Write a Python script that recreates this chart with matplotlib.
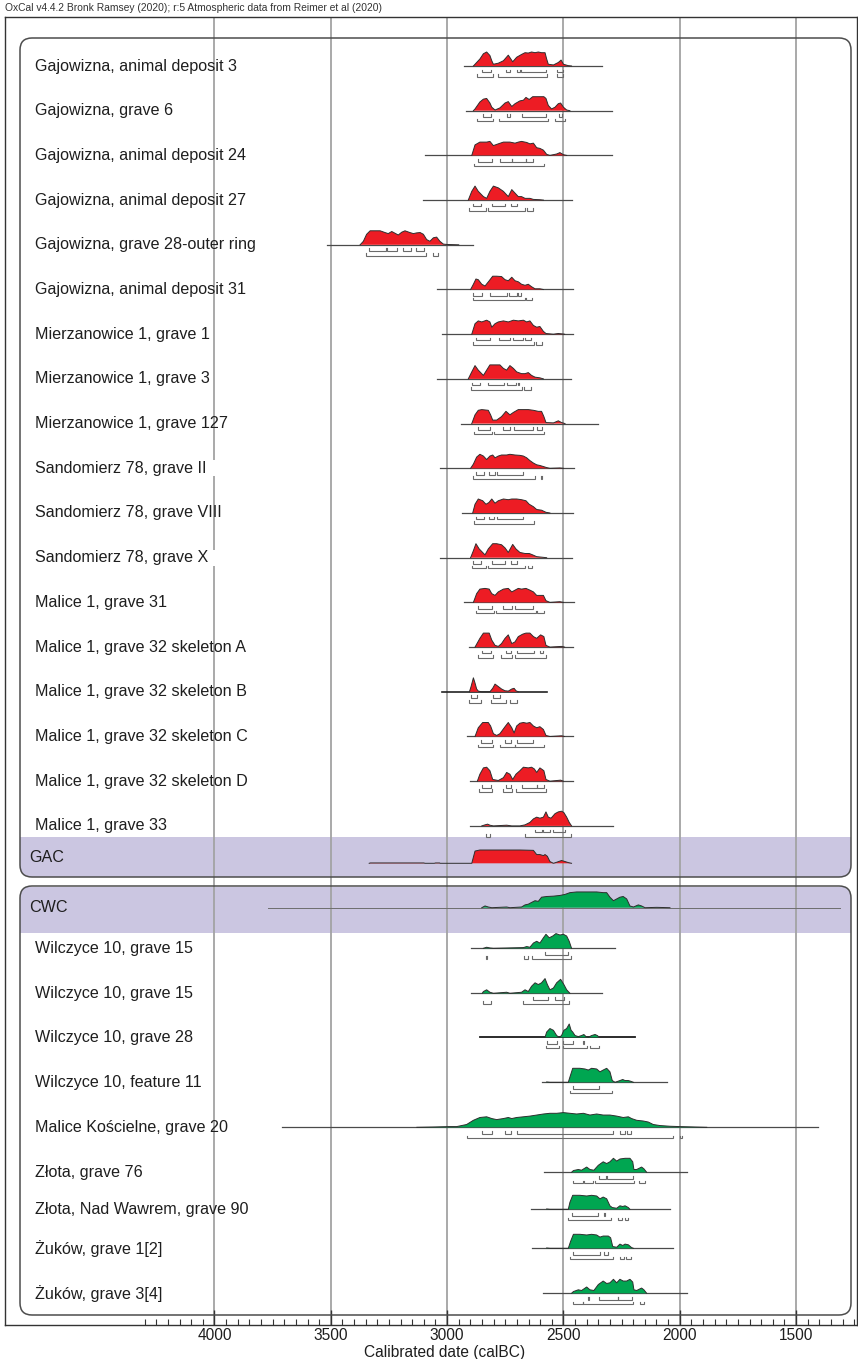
import matplotlib
matplotlib.use("Agg")
import matplotlib.pyplot as plt
from matplotlib.patches import FancyBboxPatch, Rectangle
from matplotlib.ticker import FixedLocator

plt.rcParams['font.family'] = ['Liberation Sans', 'DejaVu Sans']

# ---------------------------------------------------------------- data
HEADER = "OxCal v4.4.2 Bronk Ramsey (2020); r:5 Atmospheric data from Reimer et al (2020)"
X_LABEL = "Calibrated date (calBC)"
MAJOR_TICKS = [4000, 3500, 3000, 2500, 2000, 1500]

GAC_LABELS = [
    "Gajowizna, animal deposit 3",
    "Gajowizna, grave 6",
    "Gajowizna, animal deposit 24",
    "Gajowizna, animal deposit 27",
    "Gajowizna, grave 28-outer ring",
    "Gajowizna, animal deposit 31",
    "Mierzanowice 1, grave 1",
    "Mierzanowice 1, grave 3",
    "Mierzanowice 1, grave 127",
    "Sandomierz 78, grave II",
    "Sandomierz 78, grave VIII",
    "Sandomierz 78, grave X",
    "Malice 1, grave 31",
    "Malice 1, grave 32 skeleton A",
    "Malice 1, grave 32 skeleton B",
    "Malice 1, grave 32 skeleton C",
    "Malice 1, grave 32 skeleton D",
    "Malice 1, grave 33",
]

# full plotted extent of each likelihood (calBC)
GAC_SPANS = [
    (2927, 2333), (2919, 2293), (3095, 2293), (3104, 2465), (3516, 2889),
    (3043, 2457), (3022, 2457), (3043, 2468), (2940, 2353), (3030, 2455),
    (2937, 2457), (3030, 2465), (2927, 2453), (2904, 2457), (3022, 2569),
    (2913, 2457), (2902, 2457), (2902, 2285),
]

# probability density (relative units) at calendar years
GAC_DENSITY = [
    [(2887, 0), (2880, 5), (2859, 20), (2844, 35), (2830, 40), (2816, 30), (2808, 15), (2801, 5),
     (2780, 8), (2758, 15), (2737, 31), (2718, 12), (2701, 25), (2680, 33), (2665, 38), (2651, 37),
     (2637, 40), (2622, 38), (2608, 40), (2594, 38), (2579, 38), (2572, 20), (2565, 5), (2543, 3),
     (2522, 10), (2510, 17), (2500, 5), (2479, 1), (2465, 0)],
    [(2887, 0), (2880, 5), (2859, 25), (2844, 33), (2830, 35), (2816, 22), (2808, 10), (2794, 2),
     (2773, 8), (2751, 22), (2737, 26), (2722, 12), (2708, 20), (2687, 28), (2672, 30), (2661, 38),
     (2647, 32), (2632, 40), (2615, 40), (2601, 40), (2584, 40), (2575, 35), (2565, 15), (2551, 5),
     (2536, 10), (2522, 20), (2512, 22), (2500, 10), (2486, 2), (2472, 0)],
    [(2894, 0), (2880, 30), (2859, 38), (2830, 38), (2816, 40), (2801, 28), (2780, 33), (2758, 38),
     (2730, 38), (2708, 35), (2694, 38), (2680, 40), (2658, 37), (2644, 33), (2629, 35), (2615, 22),
     (2601, 20), (2586, 15), (2572, 3), (2558, 0), (2529, 4), (2515, 8), (2500, 2), (2486, 0)],
    [(2909, 0), (2894, 25), (2880, 40), (2866, 25), (2844, 10), (2830, 5), (2816, 25), (2801, 40),
     (2780, 35), (2758, 25), (2737, 10), (2722, 30), (2708, 20), (2694, 10), (2680, 10), (2665, 5),
     (2644, 5), (2629, 2), (2601, 1), (2586, 0)],
    [(3374, 0), (3360, 10), (3346, 30), (3331, 40), (3317, 40), (3288, 40), (3267, 35), (3253, 32),
     (3238, 38), (3224, 33), (3210, 28), (3195, 36), (3181, 40), (3160, 35), (3145, 32), (3131, 34),
     (3116, 35), (3102, 30), (3088, 15), (3074, 10), (3059, 20), (3045, 22), (3031, 10), (3016, 2),
     (3002, 1), (2950, 0)],
    [(2899, 0), (2887, 15), (2876, 30), (2866, 28), (2851, 15), (2837, 10), (2819, 25), (2804, 38),
     (2787, 38), (2766, 37), (2751, 28), (2737, 25), (2722, 35), (2708, 25), (2694, 22), (2680, 15),
     (2665, 12), (2651, 15), (2637, 8), (2622, 2), (2601, 2), (2586, 0)],
    [(2894, 0), (2880, 30), (2866, 38), (2851, 35), (2830, 40), (2816, 35), (2808, 20), (2794, 30),
     (2780, 35), (2758, 38), (2737, 35), (2715, 40), (2694, 38), (2672, 40), (2658, 35), (2644, 38),
     (2629, 25), (2615, 20), (2601, 22), (2586, 8), (2575, 2), (2543, 0), (2522, 2), (2508, 1), (2495, 0)],
    [(2909, 0), (2894, 20), (2880, 38), (2866, 25), (2844, 10), (2830, 25), (2816, 40), (2794, 40),
     (2773, 40), (2758, 30), (2744, 25), (2730, 38), (2715, 30), (2701, 20), (2680, 15), (2665, 15),
     (2651, 18), (2637, 10), (2622, 5), (2601, 3), (2586, 0)],
    [(2894, 0), (2880, 25), (2866, 38), (2851, 40), (2823, 38), (2813, 25), (2804, 10), (2787, 10),
     (2766, 20), (2747, 35), (2730, 25), (2715, 32), (2694, 40), (2672, 40), (2651, 40), (2629, 38),
     (2608, 35), (2594, 35), (2584, 20), (2575, 3), (2543, 2), (2522, 8), (2508, 3), (2493, 0)],
    [(2899, 0), (2887, 12), (2873, 32), (2859, 40), (2844, 35), (2830, 25), (2816, 35), (2804, 38),
     (2794, 30), (2780, 35), (2766, 38), (2744, 38), (2730, 40), (2708, 38), (2687, 37), (2672, 35),
     (2658, 30), (2644, 22), (2629, 15), (2615, 10), (2601, 8), (2586, 5), (2572, 2), (2558, 0),
     (2515, 1), (2500, 0)],
    [(2890, 0), (2880, 25), (2866, 40), (2847, 35), (2833, 25), (2820, 30), (2808, 40), (2794, 28),
     (2780, 35), (2758, 40), (2737, 38), (2722, 40), (2701, 40), (2680, 38), (2661, 35), (2647, 25),
     (2629, 18), (2615, 10), (2594, 8), (2575, 2), (2558, 0)],
    [(2899, 0), (2887, 20), (2876, 40), (2862, 25), (2837, 8), (2823, 25), (2804, 40), (2787, 40),
     (2766, 37), (2751, 28), (2737, 15), (2718, 38), (2704, 25), (2687, 15), (2665, 12), (2647, 12),
     (2632, 8), (2615, 3), (2586, 1), (2572, 0)],
    [(2887, 0), (2873, 25), (2859, 38), (2837, 40), (2819, 38), (2808, 25), (2794, 20), (2780, 30),
     (2758, 38), (2737, 40), (2722, 30), (2708, 35), (2694, 40), (2680, 38), (2661, 40), (2644, 35),
     (2629, 30), (2615, 20), (2601, 20), (2586, 20), (2575, 5), (2558, 0), (2515, 2), (2500, 0)],
    [(2880, 0), (2859, 25), (2844, 40), (2819, 40), (2808, 20), (2794, 5), (2780, 2), (2766, 10),
     (2751, 25), (2737, 35), (2722, 10), (2708, 15), (2694, 30), (2675, 37), (2661, 40), (2644, 40),
     (2629, 30), (2615, 25), (2598, 35), (2584, 30), (2575, 5), (2558, 0), (2508, 2), (2495, 0)],
    [(2904, 0), (2897, 15), (2887, 40), (2880, 25), (2873, 8), (2866, 2), (2851, 0), (2816, 0),
     (2804, 10), (2794, 22), (2780, 15), (2766, 8), (2751, 3), (2737, 2), (2722, 8), (2712, 10),
     (2704, 3), (2694, 0)],
    [(2880, 0), (2866, 25), (2847, 40), (2823, 40), (2813, 30), (2801, 8), (2787, 3), (2773, 8),
     (2751, 28), (2737, 40), (2722, 25), (2712, 10), (2701, 30), (2687, 38), (2672, 40), (2658, 38),
     (2644, 40), (2629, 30), (2615, 25), (2601, 28), (2586, 20), (2575, 3), (2558, 0), (2508, 2), (2495, 0)],
    [(2870, 0), (2859, 20), (2844, 38), (2830, 40), (2816, 30), (2804, 5), (2780, 2), (2758, 10),
     (2744, 25), (2730, 20), (2718, 5), (2704, 20), (2687, 30), (2672, 40), (2651, 38), (2637, 40),
     (2625, 35), (2615, 25), (2601, 38), (2584, 30), (2575, 5), (2558, 0), (2512, 3), (2500, 0)],
    [(2851, 0), (2837, 3), (2826, 5), (2816, 2), (2801, 0), (2744, 2), (2722, 0), (2687, 0),
     (2665, 3), (2644, 10), (2629, 20), (2615, 25), (2601, 22), (2586, 25), (2575, 40), (2565, 25),
     (2553, 22), (2536, 35), (2522, 40), (2508, 42), (2498, 38), (2486, 25), (2475, 10), (2465, 0)],
]

# 68.2% and 95.4% highest posterior density ranges (calBC)
GAC_HPD68 = [
    [(2851, 2813), (2747, 2730), (2698, 2687), (2682, 2575), (2529, 2500)],
    [(2847, 2813), (2744, 2730), (2677, 2575), (2518, 2506)],
    [(2869, 2806), (2773, 2722), (2722, 2661), (2661, 2632)],
    [(2890, 2856), (2808, 2751), (2727, 2698)],
    [(3336, 3263), (3257, 3217), (3191, 3155), (3134, 3099)],
    [(2887, 2851), (2816, 2744), (2733, 2698), (2694, 2682)],
    [(2876, 2816), (2777, 2730), (2718, 2672), (2665, 2641)],
    [(2892, 2859), (2823, 2754), (2741, 2704), (2697, 2690)],
    [(2866, 2816), (2761, 2730), (2712, 2629), (2612, 2594)],
    [(2876, 2841), (2819, 2794), (2787, 2672)],
    [(2876, 2841), (2819, 2798), (2784, 2672)],
    [(2887, 2856), (2808, 2751), (2727, 2698)],
    [(2866, 2806), (2761, 2720), (2708, 2632)],
    [(2851, 2811), (2747, 2727), (2698, 2625), (2601, 2586)],
    [(2899, 2870), (2804, 2773)],
    [(2856, 2808), (2751, 2727), (2701, 2629)],
    [(2849, 2811), (2748, 2725), (2680, 2615), (2615, 2582)],
    [(2622, 2594), (2586, 2558), (2546, 2493)],
]
GAC_HPD95 = [
    [(2873, 2801), (2780, 2569), (2529, 2500)],
    [(2870, 2801), (2777, 2565), (2536, 2493)],
    [(2883, 2582)],
    [(2904, 2833), (2823, 2665), (2655, 2632)],
    [(3349, 3091), (3062, 3038)],
    [(2890, 2665), (2661, 2637)],
    [(2887, 2625), (2618, 2592)],
    [(2899, 2677), (2668, 2641)],
    [(2883, 2806), (2797, 2582)],
    [(2887, 2622), (2597, 2591)],
    [(2883, 2625)],
    [(2894, 2833), (2823, 2665), (2651, 2637)],
    [(2876, 2797), (2790, 2618), (2615, 2584)],
    [(2866, 2804), (2768, 2720), (2708, 2575)],
    [(2904, 2856), (2811, 2748), (2730, 2698)],
    [(2869, 2804), (2773, 2708), (2708, 2582)],
    [(2863, 2806), (2758, 2722), (2705, 2575)],
    [(2834, 2816), (2665, 2469)],
]

GAC_SUM_LABEL = "GAC"
GAC_SUM_DENSITY = [
    (3335, 0), (3330, 1), (3100, 1), (3095, 0), (3055, 0), (3050, 1), (3032, 1), (3030, 0),
    (2894, 0), (2880, 35), (2859, 38), (2744, 38), (2687, 38), (2629, 37), (2615, 25), (2601, 25),
    (2586, 22), (2579, 25), (2569, 20), (2558, 5), (2543, 0), (2529, 3), (2508, 8), (2493, 5),
    (2479, 2), (2465, 0),
]

CWC_SUM_LABEL = "CWC"
CWC_SUM_SPAN = (3770, 1311)
CWC_SUM_DENSITY = [
    (2851, 0), (2837, 5), (2823, 2), (2808, 0), (2744, 2), (2730, 0), (2680, 2), (2665, 8),
    (2651, 10), (2637, 15), (2622, 20), (2608, 18), (2594, 30), (2572, 32), (2543, 33), (2515, 35),
    (2493, 38), (2472, 43), (2443, 45), (2400, 45), (2357, 45), (2329, 43), (2314, 43), (2300, 30),
    (2285, 20), (2271, 25), (2257, 30), (2243, 32), (2228, 25), (2214, 5), (2199, 2), (2178, 8),
    (2164, 5), (2149, 0), (2099, 1), (2042, 0),
]

CWC_LABELS = [
    "Wilczyce 10, grave 15",
    "Wilczyce 10, grave 15",
    "Wilczyce 10, grave 28",
    "Wilczyce 10, feature 11",
    "Malice Kościelne, grave 20",
    "Złota, grave 76",
    "Złota, Nad Wawrem, grave 90",
    "Żuków, grave 1[2]",
    "Żuków, grave 3[4]",
]
CWC_SPANS = [
    (2897, 2278), (2897, 2333), (2859, 2192), (2593, 2056), (3710, 1406),
    (2583, 1970), (2641, 2042), (2636, 2028), (2586, 1970),
]
CWC_DENSITY = [
    [(2844, 0), (2830, 3), (2816, 1), (2801, 0), (2672, 2), (2658, 5), (2644, 3), (2629, 15),
     (2615, 20), (2601, 15), (2586, 30), (2575, 40), (2561, 30), (2546, 35), (2532, 42), (2515, 38),
     (2500, 40), (2486, 35), (2475, 20), (2465, 0)],
    [(2849, 0), (2844, 5), (2830, 10), (2816, 3), (2801, 0), (2744, 3), (2730, 0), (2680, 3),
     (2665, 10), (2651, 5), (2637, 20), (2622, 30), (2608, 25), (2594, 30), (2579, 42), (2569, 25),
     (2558, 10), (2543, 15), (2529, 30), (2512, 40), (2498, 25), (2486, 10), (2472, 0)],
    [(2579, 0), (2572, 15), (2558, 25), (2543, 20), (2529, 5), (2518, 0), (2508, 5), (2498, 20),
     (2486, 25), (2475, 38), (2467, 20), (2460, 15), (2450, 5), (2436, 2), (2422, 5), (2412, 8),
     (2403, 2), (2393, 0), (2379, 5), (2364, 8), (2354, 5), (2346, 0)],
    [(2572, 1), (2558, 0), (2479, 0), (2472, 15), (2460, 40), (2429, 40), (2407, 38), (2393, 35),
     (2379, 40), (2357, 38), (2343, 30), (2329, 35), (2314, 40), (2300, 30), (2290, 5), (2278, 0),
     (2257, 5), (2245, 8), (2235, 5), (2221, 5), (2211, 3), (2199, 0)],
    [(3130, 0), (3050, 1), (2990, 2), (2959, 2), (2916, 8), (2887, 20), (2859, 28), (2830, 30),
     (2808, 25), (2787, 22), (2758, 25), (2737, 28), (2722, 25), (2701, 28), (2672, 30), (2644, 32),
     (2615, 35), (2586, 38), (2558, 40), (2529, 40), (2500, 42), (2472, 40), (2443, 38), (2414, 40),
     (2386, 35), (2357, 38), (2329, 35), (2300, 35), (2271, 32), (2243, 28), (2221, 30), (2207, 25),
     (2185, 20), (2157, 18), (2135, 15), (2114, 8), (2085, 5), (2042, 3), (1999, 2), (1942, 1), (1884, 0)],
    [(2465, 0), (2457, 5), (2436, 8), (2422, 6), (2400, 15), (2386, 8), (2369, 6), (2350, 20),
     (2329, 30), (2314, 25), (2300, 30), (2285, 40), (2271, 32), (2257, 38), (2235, 40), (2214, 40),
     (2202, 30), (2197, 8), (2185, 8), (2164, 15), (2154, 10), (2142, 0)],
    [(2572, 1), (2558, 0), (2479, 0), (2472, 20), (2460, 40), (2429, 40), (2400, 38), (2379, 40),
     (2357, 38), (2343, 30), (2329, 35), (2314, 30), (2300, 10), (2290, 5), (2271, 3), (2257, 10),
     (2245, 8), (2235, 10), (2221, 5), (2214, 0)],
    [(2572, 1), (2558, 0), (2479, 0), (2469, 20), (2457, 40), (2429, 40), (2400, 38), (2379, 40),
     (2357, 38), (2343, 32), (2329, 35), (2307, 35), (2297, 30), (2288, 5), (2271, 3), (2257, 12),
     (2245, 8), (2235, 12), (2221, 10), (2207, 2), (2199, 0)],
    [(2465, 0), (2457, 5), (2436, 10), (2422, 8), (2400, 18), (2386, 10), (2369, 8), (2350, 25),
     (2329, 35), (2314, 28), (2300, 30), (2285, 40), (2271, 30), (2257, 40), (2243, 35), (2228, 35),
     (2214, 40), (2202, 32), (2197, 10), (2185, 8), (2164, 15), (2154, 10), (2142, 0)],
]
CWC_HPD68 = [
    [(2579, 2479)],
    [(2629, 2568), (2536, 2498)],
    [(2569, 2529), (2500, 2457), (2417, 2412)],
    [(2460, 2346)],
    [(2851, 2806), (2751, 2727), (2698, 2285), (2257, 2235), (2228, 2211)],
    [(2346, 2318), (2311, 2202)],
    [(2465, 2350), (2324, 2320)],
    [(2460, 2343), (2324, 2307)],
    [(2396, 2390), (2346, 2264), (2264, 2207)],
]
CWC_HPD95 = [
    [(2833, 2827), (2668, 2651), (2637, 2467)],
    [(2844, 2813), (2672, 2475)],
    [(2575, 2518), (2503, 2400), (2386, 2347)],
    [(2472, 2290)],
    [(2916, 2028), (1999, 1990)],
    [(2457, 2417), (2412, 2374), (2363, 2195), (2175, 2148)],
    [(2479, 2296), (2264, 2250), (2235, 2224)],
    [(2472, 2285), (2257, 2240), (2231, 2211)],
    [(2457, 2414), (2414, 2199), (2171, 2152)],
]

# ---------------------------------------------------------------- style / layout (pixels)
W, H = 858, 1359
AX_L, AX_R, AX_T, AX_B = 5, 857, 17, 1325
X_LEFT, X_RIGHT = 4900.6, 1237.9          # calBC at the left / right frame
RED, GREEN = "#ed1c24", "#00a651"
BAND = "#cbc6e1"
GRID = "#a3a3a3"
EDGE = "#2e2e2e"
BRACKET = "#6a6a6a"
UNIT_PX = 0.35                            # pixels per density unit
LABEL_X, GROUP_LABEL_X = 35, 29
LABEL_SIZE = 11.6

GAC_ROW_Y = [66 + 44.7 * i for i in range(len(GAC_LABELS))]
GAC_SUM_Y = 863.3
CWC_SUM_Y = 907.7
CWC_ROW_Y = [948.3, 993.3, 1037.3, 1082.3, 1127.3, 1172.3, 1209.3, 1248.3, 1293.3]
TOP_BOX = (20, 38, 851, 877)
BOTTOM_BOX = (20, 886, 851, 1315)
GAC_BAND = (837, 877)
CWC_BAND = (887, 933)

fig = plt.figure(figsize=(W / 100, H / 100), dpi=100)
ax = fig.add_axes([AX_L / W, 1 - AX_B / H, (AX_R - AX_L) / W, (AX_B - AX_T) / H])
px = fig.add_axes([0, 0, 1, 1], zorder=-5)
px.set_xlim(0, W)
px.set_ylim(H, 0)
px.axis("off")
PX = px.transData

ax.set_xlim(X_LEFT, X_RIGHT)
ax.set_ylim(AX_B, AX_T)
ax.patch.set_alpha(0)

# rounded group boxes with shaded summary bands
for (x0, y0, x1, y1), (b0, b1) in [(TOP_BOX, GAC_BAND), (BOTTOM_BOX, CWC_BAND)]:
    box = FancyBboxPatch((x0, y0), x1 - x0, y1 - y0,
                         boxstyle="round,pad=0,rounding_size=12",
                         facecolor="none", edgecolor="#4d4d4d", lw=1.1,
                         transform=PX, zorder=1.6, clip_on=False)
    ax.add_patch(box)
    band = Rectangle((x0 - 5, b0), x1 - x0 + 10, b1 - b0, facecolor=BAND,
                     edgecolor="none", transform=PX, zorder=0.5)
    ax.add_patch(band)
    band.set_clip_path(box)

# vertical grid at the major ticks
for t in MAJOR_TICKS:
    ax.axvline(t, color=GRID, lw=1.3, zorder=1)


def draw_density(y, dens, color):
    yrs = [d[0] for d in dens]
    top = [y - d[1] * UNIT_PX for d in dens]
    ax.fill_between(yrs, y, top, facecolor=color, edgecolor="none", lw=0, zorder=2)
    ax.plot(yrs, top, color=EDGE, lw=0.7, zorder=2.2)


def draw_ranges(y, ranges, offset):
    yb = y + offset
    for a, b in ranges:
        ax.plot([a, a, b, b], [yb - 2.6, yb, yb, yb - 2.6], color=BRACKET,
                lw=0.8, zorder=2.1, solid_joinstyle="miter")


def draw_row(y, label, span, dens, r68, r95, color, line_color="#4a4a4a", line_w=0.9,
             label_bg=False):
    ax.plot(span, [y, y], color=line_color, lw=line_w, zorder=1.9)
    draw_density(y, dens, color)
    draw_ranges(y, r68, 6.3)
    draw_ranges(y, r95, 10.8)
    kw = {}
    text = label
    if label_bg:
        text = label + "\u00a0\u00a0"
        kw["bbox"] = dict(facecolor="white", edgecolor="none", pad=0.5)
    ax.text(LABEL_X, y, text, transform=PX, fontsize=LABEL_SIZE, color="#1e1e1e",
            va="center", ha="left", zorder=5, **kw)


for i, lab in enumerate(GAC_LABELS):
    heavy = lab.endswith("skeleton B")
    draw_row(GAC_ROW_Y[i], lab, GAC_SPANS[i], GAC_DENSITY[i], GAC_HPD68[i], GAC_HPD95[i], RED,
             line_color="#222222" if heavy else "#4a4a4a", line_w=1.2 if heavy else 0.9,
             label_bg=lab.endswith("grave II") or lab.endswith("grave X"))

# GAC summed distribution
draw_density(GAC_SUM_Y, GAC_SUM_DENSITY, RED)
ax.text(GROUP_LABEL_X, GAC_SUM_Y - 6, GAC_SUM_LABEL, transform=PX, fontsize=LABEL_SIZE,
        color="#1e1e1e", va="center", ha="left", zorder=5)

# CWC summed distribution
ax.plot(CWC_SUM_SPAN, [CWC_SUM_Y, CWC_SUM_Y], color="#6e6e6e", lw=0.7, zorder=1.9)
draw_density(CWC_SUM_Y, CWC_SUM_DENSITY, GREEN)
ax.text(GROUP_LABEL_X, CWC_SUM_Y, CWC_SUM_LABEL, transform=PX, fontsize=LABEL_SIZE,
        color="#1e1e1e", va="center", ha="left", zorder=5)

for i, lab in enumerate(CWC_LABELS):
    heavy = lab.endswith("grave 28")
    draw_row(CWC_ROW_Y[i], lab, CWC_SPANS[i], CWC_DENSITY[i], CWC_HPD68[i], CWC_HPD95[i], GREEN,
             line_color="#1a1a1a" if heavy else "#4a4a4a", line_w=1.3 if heavy else 0.9)

# axis frame, ticks and labels
for s in ax.spines.values():
    s.set_color("#333333")
    s.set_linewidth(1.0)
ax.set_yticks([])
ax.xaxis.set_major_locator(FixedLocator(MAJOR_TICKS))
ax.set_xticklabels([str(t) for t in MAJOR_TICKS])
minor = [t for t in range(4300, 1249, -50) if t not in MAJOR_TICKS]
ax.xaxis.set_minor_locator(FixedLocator(minor))
ax.tick_params(axis="x", which="major", direction="in", length=11, width=1.0,
               color="#333333", labelsize=11.2, pad=2.5, labelcolor="#1e1e1e")
ax.tick_params(axis="x", which="minor", direction="in", length=4, width=0.8, color="#333333")

fig.text(445 / W, 1 - 1352 / H, X_LABEL, ha="center", va="center", fontsize=11.2,
         color="#1e1e1e")
fig.text(5 / W, 1 - 8 / H, HEADER, ha="left", va="center", fontsize=7.4, color="#333333")

fig.savefig("out.png", dpi=100)
